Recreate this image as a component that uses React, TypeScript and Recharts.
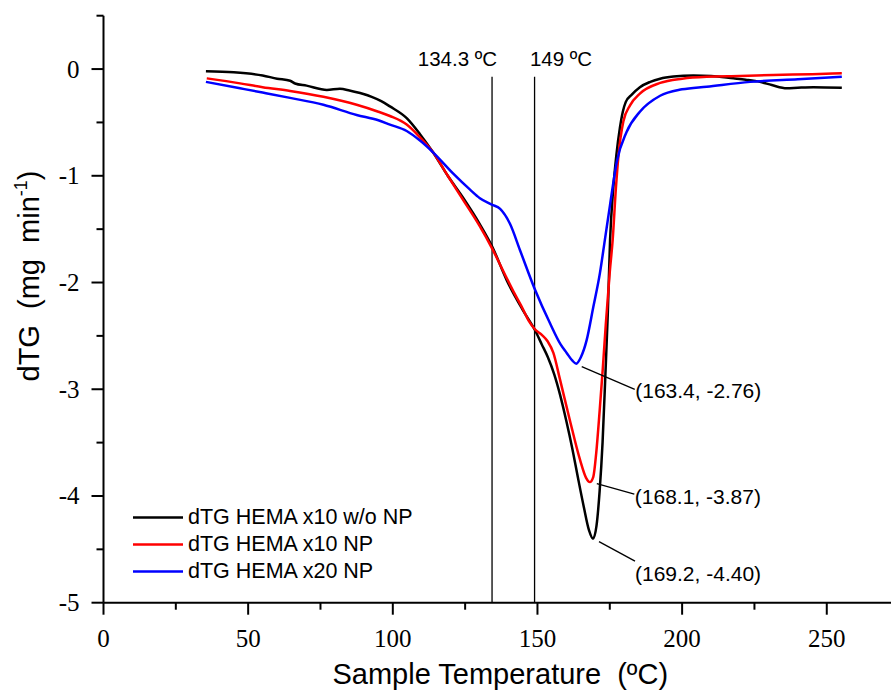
import React from 'react';
import { LineChart, Line, XAxis, YAxis, ReferenceLine, ReferenceDot, Legend } from 'recharts';

// ---- data (temperature ºC, dTG mg/min) ----
const blackCurve: [number, number][] = [
  [35.4, -0.02], [45, -0.03], [55, -0.06], [60, -0.09], [64.5, -0.11], [66.2, -0.135], [70.2, -0.155],
  [77.2, -0.195], [81.7, -0.185], [85, -0.2], [88.7, -0.225], [92.7, -0.26], [96, -0.3], [99, -0.35],
  [104.8, -0.46], [109.4, -0.61], [113.9, -0.78], [119, -1.0], [124.4, -1.21], [130, -1.45], [134.3, -1.66],
  [139.4, -1.98], [145, -2.26], [149.2, -2.45], [151.5, -2.58], [153.6, -2.7], [155.8, -2.86], [157.8, -3.05],
  [160, -3.3], [162, -3.55], [164, -3.83], [166, -4.1], [167.8, -4.32], [169.2, -4.4], [170.4, -4.28],
  [171.5, -3.95], [172.5, -3.5], [173.5, -2.85], [174.3, -2.3], [175.1, -1.6], [176.2, -1.12], [177.3, -0.8],
  [178.5, -0.55], [179.5, -0.4], [180.5, -0.31], [182.6, -0.24], [185.4, -0.17], [189, -0.12], [192.4, -0.09],
  [197, -0.07], [203.9, -0.06], [210, -0.065], [217.7, -0.087], [222, -0.1], [226.9, -0.12], [231, -0.15],
  [236.2, -0.18], [240, -0.175], [245.4, -0.17], [255.2, -0.175],
];
const redCurve: [number, number][] = [
  [35.7, -0.087], [47.2, -0.134], [55, -0.17], [64.5, -0.205], [76, -0.26], [87.5, -0.335], [95, -0.4],
  [99, -0.44], [104.8, -0.52], [109.4, -0.64], [113.9, -0.78], [119, -1.0], [124.4, -1.23], [130, -1.47],
  [134.3, -1.68], [139.4, -1.96], [142, -2.1], [145, -2.25], [147, -2.36], [149.2, -2.44], [151.5, -2.49],
  [153.5, -2.55], [155.5, -2.66], [157.8, -2.91], [161.2, -3.29], [164.7, -3.66], [166.8, -3.83],
  [168.1, -3.87], [169.3, -3.82], [170.3, -3.6], [171.5, -3.2], [172.6, -2.8], [173.6, -2.4], [175, -1.9],
  [176, -1.6], [177.1, -1.12], [178, -0.81], [179.7, -0.49], [182, -0.34], [185.4, -0.23], [192.4, -0.13],
  [200, -0.09], [208.5, -0.072], [220, -0.065], [231.5, -0.056], [245, -0.048], [255.2, -0.04],
];
const blueCurve: [number, number][] = [
  [35.4, -0.12], [47.2, -0.18], [55, -0.22], [64.5, -0.27], [76, -0.335], [87.5, -0.43], [95, -0.48],
  [99, -0.52], [104.8, -0.58], [109.4, -0.67], [113.9, -0.78], [120.9, -0.98], [126.7, -1.13],
  [130.1, -1.21], [134.2, -1.27], [137.1, -1.31], [140.5, -1.45], [144, -1.7], [149.2, -2.07],
  [154.3, -2.38], [158, -2.58], [160.1, -2.66], [162, -2.73], [163.4, -2.76], [165, -2.7], [167, -2.54],
  [169.3, -2.23], [171.6, -1.91], [173.3, -1.6], [175.1, -1.27], [177.4, -0.87], [180.8, -0.59],
  [185.4, -0.4], [192.4, -0.25], [200, -0.19], [208.5, -0.165], [223.5, -0.12], [240, -0.095], [255.2, -0.072],
];

const seriesNames = ['dTG HEMA x10 w/o NP', 'dTG HEMA x10 NP', 'dTG HEMA x20 NP'];
const peakTemps = [169.2, 168.1, 163.4];
const peakValues = [-4.4, -3.87, -2.76];
const peakLabels = ['(169.2, -4.40)', '(168.1, -3.87)', '(163.4, -2.76)'];
const markerTemps = [134.3, 149];
const markerLabels = ['134.3 ºC', '149 ºC'];
const xTicks = [0, 25, 50, 75, 100, 125, 150, 175, 200, 225, 250];
const yTicks = [-5, -4.5, -4, -3.5, -3, -2.5, -2, -1.5, -1, -0.5, 0, 0.5];

// ---- layout / style ----
const SANS = "'Liberation Sans', Arial, sans-serif";
const SERIF = "'Liberation Serif', 'Times New Roman', Times, serif";
const colors = ['#000000', '#ff0000', '#0000ff'];
const curves = [blackCurve, redCurve, blueCurve];
// leader line start (dx1,dy1), end (dx2,dy2), text offset (tx, ty) in px from the peak
const calloutOffsets = [
  [6, 3, 42, 22.5, 42, 42],
  [7, 1.5, 44.5, 12, 45, 21.5],
  [5.5, 3, 58.5, 25.8, 59, 34],
];

const toPoints = (c: [number, number][]) => c.map(([x, y]) => ({ x, y }));

const XTick = (props: any) => {
  const { x, y, payload } = props;
  const v = payload.value;
  const major = v % 50 === 0;
  return (
    <g>
      <line x1={x} x2={x} y1={y} y2={y + (major ? 12 : 7)} stroke="#000" strokeWidth={2} />
      {major && (
        <text x={x} y={y + 44} textAnchor="middle" style={{ fontFamily: SERIF, fontSize: 25 }} fill="#000">
          {v}
        </text>
      )}
    </g>
  );
};

const YTick = (props: any) => {
  const { x, y, payload } = props;
  const v = payload.value;
  const major = Math.abs(v - Math.round(v)) < 1e-6;
  return (
    <g>
      <line x1={x - (major ? 12 : 7)} x2={x} y1={y} y2={y} stroke="#000" strokeWidth={2} />
      {major && (
        <text x={x - 24} y={y + 8.5} textAnchor="end" style={{ fontFamily: SERIF, fontSize: 25 }} fill="#000">
          {String(v)}
        </text>
      )}
    </g>
  );
};

const renderLegend = () => (
  <div style={{ fontFamily: SANS, fontSize: 21.5, color: '#000' }}>
    {seriesNames.map((name, i) => (
      <div key={name} style={{ display: 'flex', alignItems: 'center', height: 27, whiteSpace: 'nowrap' }}>
        <svg width={55} height={27} style={{ display: 'block' }}>
          <line x1={0} x2={50} y1={13.5} y2={13.5} stroke={colors[i]} strokeWidth={2.5} />
        </svg>
        <span style={{ lineHeight: '27px' }}>{name}</span>
      </div>
    ))}
  </div>
);

export default function App() {
  return (
    <div style={{ position: 'absolute', left: 0, top: 0, background: '#fff' }}>
      <LineChart
        width={891}
        height={691}
        margin={{ top: 15.7, right: 0, bottom: 28.3, left: 43.5 }}
      >
        <XAxis
          type="number"
          dataKey="x"
          domain={[0, 272.2]}
          ticks={xTicks}
          interval={0}
          tickLine={false}
          tickSize={0}
          tickMargin={0}
          height={60}
          axisLine={{ stroke: '#000', strokeWidth: 2 }}
          tick={<XTick />}
          allowDataOverflow
          label={{
            content: (p: any) => {
              const vb = p.viewBox || { x: 103.5, y: 602.7, width: 787.5 };
              return (
                <text
                  x={vb.x + vb.width / 2 + 3}
                  y={vb.y + 81}
                  textAnchor="middle"
                  fill="#000"
                  style={{ whiteSpace: 'pre', fontFamily: SANS, fontSize: 29 }}
                  xmlSpace="preserve"
                >
                  {'Sample Temperature  (ºC)'}
                </text>
              );
            },
          }}
        />
        <YAxis
          type="number"
          domain={[-5, 0.5]}
          ticks={yTicks}
          interval={0}
          tickLine={false}
          tickSize={0}
          tickMargin={0}
          width={60}
          axisLine={{ stroke: '#000', strokeWidth: 2 }}
          tick={<YTick />}
          allowDataOverflow
          label={{
            content: () => (
              <text
                x={39}
                y={276}
                transform="rotate(-90, 39, 276)"
                textAnchor="middle"
                fill="#000"
                style={{ whiteSpace: 'pre', fontFamily: SANS, fontSize: 29 }}
                xmlSpace="preserve"
              >
                {'dTG  (mg  min'}
                <tspan style={{ fontSize: 18 }} dy={-12}>-1</tspan>
                <tspan dy={12}>)</tspan>
              </text>
            ),
          }}
        />
        <Legend
          layout="vertical"
          align="center"
          verticalAlign="middle"
          content={renderLegend}
          wrapperStyle={{ left: 133, top: 504, width: 340 }}
        />
        {markerTemps.map((t) => (
          <ReferenceLine
            key={'m' + t}
            segment={[
              { x: t, y: -0.072 },
              { x: t, y: -5 },
            ]}
            stroke="#000"
            strokeWidth={1.3}
          />
        ))}
        {curves.map((c, i) => (
          <Line
            key={seriesNames[i]}
            name={seriesNames[i]}
            data={toPoints(c)}
            dataKey="y"
            type="monotone"
            stroke={colors[i]}
            strokeWidth={2.5}
            dot={false}
            activeDot={false}
            isAnimationActive={false}
          />
        ))}
        {markerTemps.map((t, i) => (
          <ReferenceDot
            key={'ml' + t}
            x={t}
            y={-0.072}
            r={1}
            shape={(p: any) => (
              <text
                x={i === 0 ? p.cx + 5 : p.cx - 4.6}
                y={p.cy - 10.5}
                textAnchor={i === 0 ? 'end' : 'start'}
                fill="#000"
                style={{ fontFamily: SANS, fontSize: 20.5 }}
              >
                {markerLabels[i]}
              </text>
            )}
          />
        ))}
        {peakTemps.map((t, i) => {
          const o = calloutOffsets[i];
          return (
            <ReferenceDot
              key={'pk' + i}
              x={t}
              y={peakValues[i]}
              r={1}
              shape={(p: any) => (
                <g>
                  <line
                    x1={p.cx + o[0]}
                    y1={p.cy + o[1]}
                    x2={p.cx + o[2]}
                    y2={p.cy + o[3]}
                    stroke="#000"
                    strokeWidth={1.3}
                  />
                  <text x={p.cx + o[4]} y={p.cy + o[5]} fill="#000" style={{ fontFamily: SANS, fontSize: 21 }}>
                    {peakLabels[i]}
                  </text>
                </g>
              )}
            />
          );
        })}
      </LineChart>
    </div>
  );
}
